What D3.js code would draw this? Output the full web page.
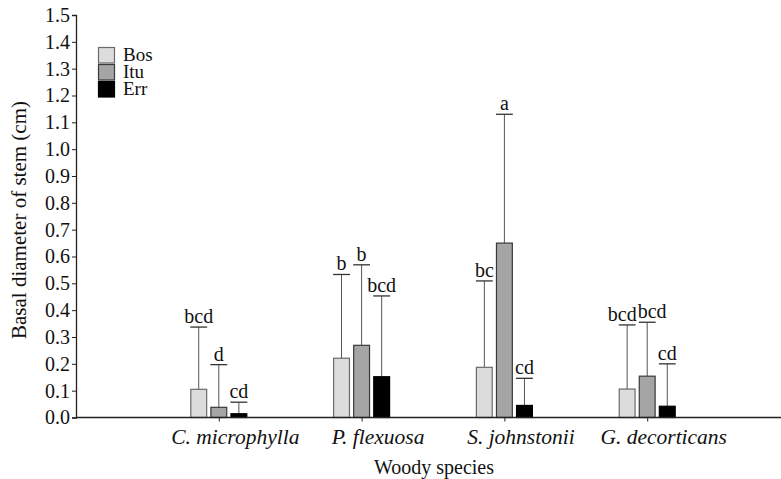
<!DOCTYPE html>
<html>
<head>
<meta charset="utf-8">
<script src="https://cdn.jsdelivr.net/npm/d3@7.9.0/dist/d3.min.js"></script>
<style>
  body { margin: 0; background: #fff; }
  svg text { font-family: "Liberation Serif", "Times New Roman", serif; fill: #111; }
</style>
</head>
<body>
<svg width="781" height="479"></svg>
<script>
// species on the x axis
const species = ['C. microphylla', 'P. flexuosa', 'S. johnstonii', 'G. decorticans'];
const sites = ['Bos', 'Itu', 'Err'];

// mean basal diameter (cm), one array per site
const bos = [0.105, 0.221, 0.187, 0.106];
const itu = [0.038, 0.269, 0.650, 0.154];
const err = [0.014, 0.152, 0.045, 0.042];

// top of error bars
const bosUpper = [0.337, 0.533, 0.509, 0.345];
const ituUpper = [0.197, 0.569, 1.130, 0.355];
const errUpper = [0.057, 0.453, 0.146, 0.200];

// significance letters
const bosLetters = ['bcd', 'b', 'bc', 'bcd'];
const ituLetters = ['d', 'b', 'a', 'bcd'];
const errLetters = ['cd', 'bcd', 'cd', 'cd'];

const yTicks = d3.range(0, 16).map(i => i / 10);

const colors = { Bos: '#dcdcdc', Itu: '#a5a5a5', Err: '#000000' };
const strokes = { Bos: '#6a6a6a', Itu: '#3a3a3a', Err: '#000000' };

const svg = d3.select('svg');
const x0 = 76, yBottom = 417.5, yTop = 15;

const x = d3.scalePoint().domain(species).range([x0, 790]).padding(1);
const xSub = d3.scaleBand().domain(sites).range([-28.5, 28.5]).paddingInner(0.16);
const y = d3.scaleLinear().domain([0, 1.5]).range([yBottom, yTop]);

// build a flat table for drawing
const means = { Bos: bos, Itu: itu, Err: err };
const uppers = { Bos: bosUpper, Itu: ituUpper, Err: errUpper };
const letters = { Bos: bosLetters, Itu: ituLetters, Err: errLetters };
const rows = [];
species.forEach((sp, i) => {
  sites.forEach(s => {
    rows.push({ sp, site: s, value: means[s][i], upper: uppers[s][i], letter: letters[s][i] });
  });
});

const bw = xSub.bandwidth();
const g = svg.append('g');

// error bars (upper only)
const labelNodes = [];
rows.forEach(d => {
  const cx = x(d.sp) + xSub(d.site) + bw / 2;
  g.append('line')
    .attr('x1', cx).attr('x2', cx)
    .attr('y1', y(d.value)).attr('y2', y(d.upper))
    .attr('stroke', '#555').attr('stroke-width', 1);
  g.append('line')
    .attr('x1', cx - bw / 2).attr('x2', cx + bw / 2)
    .attr('y1', y(d.upper)).attr('y2', y(d.upper))
    .attr('stroke', '#333').attr('stroke-width', 1.3);
  const t = g.append('text')
    .attr('x', cx).attr('y', y(d.upper) - 4)
    .attr('text-anchor', 'middle')
    .attr('font-size', 20)
    .text(d.letter);
  labelNodes.push({ sp: d.sp, node: t, cx });
});

// push apart letters that would collide inside a group
species.forEach(sp => {
  const ls = labelNodes.filter(l => l.sp === sp);
  for (let i = 0; i < ls.length - 1; i++) {
    const a = ls[i].node.node().getBBox(), b = ls[i + 1].node.node().getBBox();
    const vOverlap = a.y < b.y + b.height && b.y < a.y + a.height;
    const hOverlap = a.x + a.width - b.x + 1;
    if (vOverlap && hOverlap > 0) {
      ls[i].node.attr('x', +ls[i].node.attr('x') - hOverlap / 2);
      ls[i + 1].node.attr('x', +ls[i + 1].node.attr('x') + hOverlap / 2);
    }
  }
});

// bars
rows.forEach(d => {
  g.append('rect')
    .attr('x', x(d.sp) + xSub(d.site) + 0.5)
    .attr('y', y(d.value))
    .attr('width', bw - 1)
    .attr('height', yBottom - y(d.value))
    .attr('fill', colors[d.site])
    .attr('stroke', strokes[d.site])
    .attr('stroke-width', 1.2);
});

// y axis
const yAxis = d3.axisLeft(y).tickValues(yTicks).tickFormat(d3.format('.1f')).tickSize(4).tickPadding(2);
const ya = svg.append('g').attr('transform', `translate(${x0},0)`).call(yAxis);
ya.select('.domain').attr('stroke', '#222').attr('stroke-width', 1.3);
ya.selectAll('.tick line').attr('stroke', '#222');
ya.selectAll('text').attr('font-size', 20).attr('fill', '#111')
  .style('font-family', '"Liberation Serif", serif');

// x axis line
svg.append('line')
  .attr('x1', x0).attr('x2', 781)
  .attr('y1', yBottom).attr('y2', yBottom)
  .attr('stroke', '#222').attr('stroke-width', 1.3);

const xAxis = d3.axisBottom(x).tickSize(4).tickPadding(7);
const xa = svg.append('g').attr('transform', `translate(0,${yBottom})`).call(xAxis);
xa.select('.domain').remove();
xa.selectAll('.tick line').attr('stroke', '#222');
xa.selectAll('text').attr('font-size', 21.5).attr('fill', '#111')
  .attr('dx', 16)
  .style('font-family', '"Liberation Serif", serif')
  .style('font-style', 'italic');

// axis titles
svg.append('text')
  .attr('transform', 'translate(26,220) rotate(-90)')
  .attr('text-anchor', 'middle')
  .attr('font-size', 21)
  .text('Basal diameter of stem  (cm)');

svg.append('text')
  .attr('x', 434).attr('y', 474)
  .attr('text-anchor', 'middle')
  .attr('font-size', 20)
  .text('Woody species');

// legend
const legend = svg.append('g').attr('transform', 'translate(98,47)');
sites.forEach((s, i) => {
  legend.append('rect')
    .attr('x', 0.5).attr('y', i * 17 + 0.5)
    .attr('width', 16).attr('height', 15.5)
    .attr('fill', colors[s]).attr('stroke', strokes[s]).attr('stroke-width', 1.2);
  legend.append('text')
    .attr('x', 25).attr('y', i * 17 + 14)
    .attr('font-size', 19)
    .text(s);
});
</script>
</body>
</html>
